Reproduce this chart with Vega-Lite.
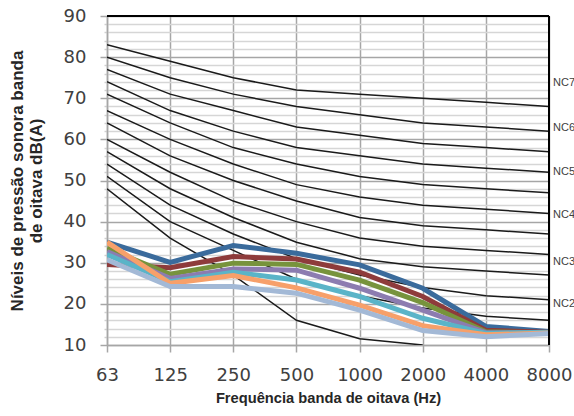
{
  "$schema": "https://vega.github.io/schema/vega-lite/v6.json",
  "width": 442,
  "height": 329,
  "autosize": {"type": "none"},
  "padding": {"left": 107, "top": 16, "right": 25, "bottom": 71},
  "background": "white",
  "config": {"view": {"stroke": null}},
  "datasets": {
    "nc": [
      {"curve": "NC70", "freq": "63", "level": 83}, {"curve": "NC70", "freq": "125", "level": 79}, {"curve": "NC70", "freq": "250", "level": 75}, {"curve": "NC70", "freq": "500", "level": 72}, {"curve": "NC70", "freq": "1000", "level": 71}, {"curve": "NC70", "freq": "2000", "level": 70}, {"curve": "NC70", "freq": "4000", "level": 69}, {"curve": "NC70", "freq": "8000", "level": 68},
      {"curve": "NC65", "freq": "63", "level": 80}, {"curve": "NC65", "freq": "125", "level": 75}, {"curve": "NC65", "freq": "250", "level": 71}, {"curve": "NC65", "freq": "500", "level": 68}, {"curve": "NC65", "freq": "1000", "level": 66}, {"curve": "NC65", "freq": "2000", "level": 64}, {"curve": "NC65", "freq": "4000", "level": 63}, {"curve": "NC65", "freq": "8000", "level": 62},
      {"curve": "NC60", "freq": "63", "level": 77}, {"curve": "NC60", "freq": "125", "level": 71}, {"curve": "NC60", "freq": "250", "level": 67}, {"curve": "NC60", "freq": "500", "level": 63}, {"curve": "NC60", "freq": "1000", "level": 61}, {"curve": "NC60", "freq": "2000", "level": 59}, {"curve": "NC60", "freq": "4000", "level": 58}, {"curve": "NC60", "freq": "8000", "level": 57},
      {"curve": "NC55", "freq": "63", "level": 74}, {"curve": "NC55", "freq": "125", "level": 67}, {"curve": "NC55", "freq": "250", "level": 62}, {"curve": "NC55", "freq": "500", "level": 58}, {"curve": "NC55", "freq": "1000", "level": 56}, {"curve": "NC55", "freq": "2000", "level": 54}, {"curve": "NC55", "freq": "4000", "level": 53}, {"curve": "NC55", "freq": "8000", "level": 52},
      {"curve": "NC50", "freq": "63", "level": 71}, {"curve": "NC50", "freq": "125", "level": 64}, {"curve": "NC50", "freq": "250", "level": 58}, {"curve": "NC50", "freq": "500", "level": 54}, {"curve": "NC50", "freq": "1000", "level": 51}, {"curve": "NC50", "freq": "2000", "level": 49}, {"curve": "NC50", "freq": "4000", "level": 48}, {"curve": "NC50", "freq": "8000", "level": 47},
      {"curve": "NC45", "freq": "63", "level": 67}, {"curve": "NC45", "freq": "125", "level": 60}, {"curve": "NC45", "freq": "250", "level": 54}, {"curve": "NC45", "freq": "500", "level": 49}, {"curve": "NC45", "freq": "1000", "level": 46}, {"curve": "NC45", "freq": "2000", "level": 44}, {"curve": "NC45", "freq": "4000", "level": 43}, {"curve": "NC45", "freq": "8000", "level": 42},
      {"curve": "NC40", "freq": "63", "level": 64}, {"curve": "NC40", "freq": "125", "level": 56}, {"curve": "NC40", "freq": "250", "level": 50}, {"curve": "NC40", "freq": "500", "level": 45}, {"curve": "NC40", "freq": "1000", "level": 41}, {"curve": "NC40", "freq": "2000", "level": 39}, {"curve": "NC40", "freq": "4000", "level": 38}, {"curve": "NC40", "freq": "8000", "level": 37},
      {"curve": "NC35", "freq": "63", "level": 60}, {"curve": "NC35", "freq": "125", "level": 52}, {"curve": "NC35", "freq": "250", "level": 45}, {"curve": "NC35", "freq": "500", "level": 40}, {"curve": "NC35", "freq": "1000", "level": 36}, {"curve": "NC35", "freq": "2000", "level": 34}, {"curve": "NC35", "freq": "4000", "level": 33}, {"curve": "NC35", "freq": "8000", "level": 32},
      {"curve": "NC30", "freq": "63", "level": 57}, {"curve": "NC30", "freq": "125", "level": 48}, {"curve": "NC30", "freq": "250", "level": 41}, {"curve": "NC30", "freq": "500", "level": 35}, {"curve": "NC30", "freq": "1000", "level": 31}, {"curve": "NC30", "freq": "2000", "level": 29}, {"curve": "NC30", "freq": "4000", "level": 28}, {"curve": "NC30", "freq": "8000", "level": 27},
      {"curve": "NC25", "freq": "63", "level": 54}, {"curve": "NC25", "freq": "125", "level": 44}, {"curve": "NC25", "freq": "250", "level": 37}, {"curve": "NC25", "freq": "500", "level": 31}, {"curve": "NC25", "freq": "1000", "level": 27}, {"curve": "NC25", "freq": "2000", "level": 24}, {"curve": "NC25", "freq": "4000", "level": 22}, {"curve": "NC25", "freq": "8000", "level": 21},
      {"curve": "NC20", "freq": "63", "level": 51}, {"curve": "NC20", "freq": "125", "level": 40}, {"curve": "NC20", "freq": "250", "level": 33}, {"curve": "NC20", "freq": "500", "level": 26}, {"curve": "NC20", "freq": "1000", "level": 22}, {"curve": "NC20", "freq": "2000", "level": 19}, {"curve": "NC20", "freq": "4000", "level": 17}, {"curve": "NC20", "freq": "8000", "level": 16},
      {"curve": "NC15", "freq": "63", "level": 48}, {"curve": "NC15", "freq": "125", "level": 36}, {"curve": "NC15", "freq": "250", "level": 27}, {"curve": "NC15", "freq": "500", "level": 16}, {"curve": "NC15", "freq": "1000", "level": 11.5}, {"curve": "NC15", "freq": "2000", "level": 10}
    ],
    "meas": [
      {"series": "S1", "freq": "63", "level": 35}, {"series": "S1", "freq": "125", "level": 30.1}, {"series": "S1", "freq": "250", "level": 34.2}, {"series": "S1", "freq": "500", "level": 32.3}, {"series": "S1", "freq": "1000", "level": 29.5}, {"series": "S1", "freq": "2000", "level": 23.8}, {"series": "S1", "freq": "4000", "level": 14.5}, {"series": "S1", "freq": "8000", "level": 13.3},
      {"series": "S2", "freq": "63", "level": 29.6}, {"series": "S2", "freq": "125", "level": 28.8}, {"series": "S2", "freq": "250", "level": 31.5}, {"series": "S2", "freq": "500", "level": 30.9}, {"series": "S2", "freq": "1000", "level": 27.7}, {"series": "S2", "freq": "2000", "level": 21.8}, {"series": "S2", "freq": "4000", "level": 13.6}, {"series": "S2", "freq": "8000", "level": 13.1},
      {"series": "S3", "freq": "63", "level": 33.5}, {"series": "S3", "freq": "125", "level": 27.2}, {"series": "S3", "freq": "250", "level": 29.9}, {"series": "S3", "freq": "500", "level": 29.6}, {"series": "S3", "freq": "1000", "level": 25.8}, {"series": "S3", "freq": "2000", "level": 20.3}, {"series": "S3", "freq": "4000", "level": 13.2}, {"series": "S3", "freq": "8000", "level": 13.0},
      {"series": "S4", "freq": "63", "level": 32.7}, {"series": "S4", "freq": "125", "level": 26.2}, {"series": "S4", "freq": "250", "level": 28.5}, {"series": "S4", "freq": "500", "level": 28.2}, {"series": "S4", "freq": "1000", "level": 23.8}, {"series": "S4", "freq": "2000", "level": 18.5}, {"series": "S4", "freq": "4000", "level": 13.0}, {"series": "S4", "freq": "8000", "level": 13.0},
      {"series": "S5", "freq": "63", "level": 32}, {"series": "S5", "freq": "125", "level": 25.4}, {"series": "S5", "freq": "250", "level": 27.7}, {"series": "S5", "freq": "500", "level": 25.8}, {"series": "S5", "freq": "1000", "level": 21.8}, {"series": "S5", "freq": "2000", "level": 16.5}, {"series": "S5", "freq": "4000", "level": 12.8}, {"series": "S5", "freq": "8000", "level": 13.1},
      {"series": "S6", "freq": "63", "level": 35}, {"series": "S6", "freq": "125", "level": 25.0}, {"series": "S6", "freq": "250", "level": 26.9}, {"series": "S6", "freq": "500", "level": 23.9}, {"series": "S6", "freq": "1000", "level": 19.7}, {"series": "S6", "freq": "2000", "level": 14.7}, {"series": "S6", "freq": "4000", "level": 12.5}, {"series": "S6", "freq": "8000", "level": 12.9},
      {"series": "S7", "freq": "63", "level": 30.7}, {"series": "S7", "freq": "125", "level": 24.2}, {"series": "S7", "freq": "250", "level": 24.2}, {"series": "S7", "freq": "500", "level": 22.6}, {"series": "S7", "freq": "1000", "level": 18.5}, {"series": "S7", "freq": "2000", "level": 13.5}, {"series": "S7", "freq": "4000", "level": 12.0}, {"series": "S7", "freq": "8000", "level": 12.8}
    ],
    "labels": [
      {"label": "NC70", "level": 73.8},
      {"label": "NC60", "level": 62.8},
      {"label": "NC50", "level": 52.1},
      {"label": "NC40", "level": 41.6},
      {"label": "NC30", "level": 30.2},
      {"label": "NC20", "level": 20}
    ]
  },
  "resolve": {"axis": {"y": "independent"}},
  "layer": [
    {
      "data": {"name": "meas"},
      "mark": {"type": "line", "strokeWidth": 5, "opacity": 0},
      "encoding": {
        "x": {"field": "freq", "type": "ordinal",
          "scale": {"type": "point", "padding": 0, "domain": ["63", "125", "250", "500", "1000", "2000", "4000", "8000"]},
          "axis": {
            "title": "Frequência banda de oitava (Hz)",
            "titleFont": "Liberation Sans", "titleFontSize": 14.7, "titleFontWeight": "bold", "titleColor": "#262626", "titlePadding": 6,
            "labelFont": "DejaVu Sans", "labelFontSize": 18, "labelColor": "#404040", "labelAngle": 0, "labelPadding": 14,
            "domainColor": "#A6A6A6", "domainWidth": 1.5,
            "tickColor": "#A6A6A6", "tickSize": 7, "tickWidth": 1.5,
            "grid": true, "gridColor": "#A6A6A6", "gridWidth": 1.5
          }},
        "y": {"field": "level", "type": "quantitative",
          "scale": {"domain": [10, 90], "nice": false, "zero": false},
          "axis": {
            "orient": "left", "title": null, "labels": false, "domain": false,
            "values": [12, 14, 16, 18, 22, 24, 26, 28, 32, 34, 36, 38, 42, 44, 46, 48, 52, 54, 56, 58, 62, 64, 66, 68, 72, 74, 76, 78, 82, 84, 86, 88],
            "ticks": true, "tickSize": 3, "tickColor": "#D0D0D0", "tickWidth": 1.5,
            "grid": true, "gridColor": "#D6D6D6", "gridWidth": 1.5
          }
        },
        "detail": {"field": "series"}
      }
    },
    {
      "data": {"name": "nc"},
      "mark": {"type": "line", "color": "#1a1a1a", "strokeWidth": 1.5, "clip": true},
      "encoding": {
        "x": {"field": "freq", "type": "ordinal"},
        "y": {
          "field": "level", "type": "quantitative",
          "axis": {
            "orient": "left",
            "title": ["Níveis de pressão sonora banda", "de oitava dB(A)"],
            "titleFont": "Liberation Sans", "titleFontSize": 17, "titleFontWeight": "bold", "titleColor": "#262626", "titlePadding": 18, "titleLineHeight": 19,
            "values": [10, 20, 30, 40, 50, 60, 70, 80, 90],
            "labelFont": "DejaVu Sans", "labelFontSize": 18, "labelColor": "#404040", "labelPadding": 14, "labelOverlap": false,
            "domainColor": "#A6A6A6", "domainWidth": 1.5,
            "tickColor": "#A6A6A6", "tickSize": 7, "tickWidth": 1.5,
            "grid": true, "gridColor": "#A6A6A6", "gridWidth": 1.5
          }
        },
        "detail": {"field": "curve"}
      }
    },
    {
      "data": {"name": "meas"},
      "mark": {"type": "line", "strokeWidth": 5, "strokeJoin": "miter", "clip": true},
      "encoding": {
        "x": {"field": "freq", "type": "ordinal"},
        "y": {"field": "level", "type": "quantitative", "axis": null},
        "color": {
          "field": "series", "type": "nominal", "legend": null,
          "scale": {"domain": ["S1", "S2", "S3", "S4", "S5", "S6", "S7"], "range": ["#3A6B9C", "#8E3B3B", "#77933C", "#8C7CB0", "#5AB4C8", "#F7A06A", "#A3B9D6"]}
        }
      }
    },
    {
      "data": {"values": [{}]},
      "mark": {"type": "rule", "color": "#000000", "strokeWidth": 2},
      "encoding": {"y": {"datum": 90, "axis": null}}
    },
    {
      "data": {"values": [{}]},
      "mark": {"type": "rule", "color": "#000000", "strokeWidth": 2},
      "encoding": {"x": {"datum": "8000", "type": "ordinal"}}
    },
    {
      "data": {"name": "labels"},
      "mark": {"type": "text", "align": "left", "baseline": "middle", "dx": 4, "font": "Liberation Sans", "fontSize": 11, "color": "#404040"},
      "encoding": {
        "x": {"datum": "8000", "type": "ordinal"},
        "y": {"field": "level", "type": "quantitative", "axis": null},
        "text": {"field": "label"}
      }
    }
  ]
}
